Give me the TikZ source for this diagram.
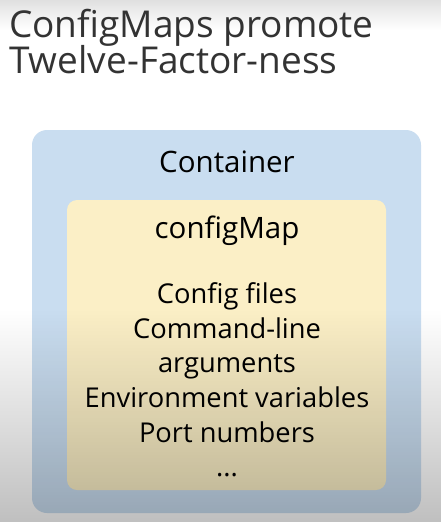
\documentclass[tikz,border=0pt]{standalone}
\usepackage{fontspec}
\setmainfont{Open Sans}
\usetikzlibrary{fadings}
\begin{document}
\begin{tikzpicture}[x=1pt,y=-1pt,
  title/.style={anchor=base west,inner sep=0pt,font=\fontsize{37}{40}\selectfont,text=black!80},
  item/.style={anchor=base,inner sep=0pt,font=\fontsize{27.3}{30}\selectfont,text=black},
  head/.style={item,font=\fontsize{29.5}{32}\selectfont},
  outerbox/.style={fill=cBlue,rounded corners=15pt},
  innerbox/.style={fill=cYellow,rounded corners=10pt}]
\definecolor{cBlue}{HTML}{C9DDF0}
\definecolor{cYellow}{HTML}{FBEFC6}
\useasboundingbox (0,0) rectangle (441,522);
\fill[white] (0,0) rectangle (441,522);
\shade[top color=black!12,bottom color=white] (0,0) rectangle (441,30);
\node[title] (t1) at (9,37) {ConfigMaps promote};
\node[title] (t2) at (9,73) {Twelve-Factor-ness};
\fill[outerbox] (32,130) rectangle (421,513);
\node[head] (cont) at (227,172) {Container};
\fill[innerbox] (67,200) rectangle (386,490);
\node[head] (cm) at (227,238) {configMap};
\node[item] (i1) at (227,303) {Config files};
\node[item] (i2) at (227,338) {Command-line};
\node[item] (i3) at (227,372) {arguments};
\node[item] (i4) at (227,407) {Environment variables};
\node[item] (i5) at (227,442) {Port numbers};
\node[item] (i6) at (227,476) {...};
\fill[black,opacity=0.25,path fading=north] (0,310) rectangle (441,522);
\end{tikzpicture}
\end{document}
